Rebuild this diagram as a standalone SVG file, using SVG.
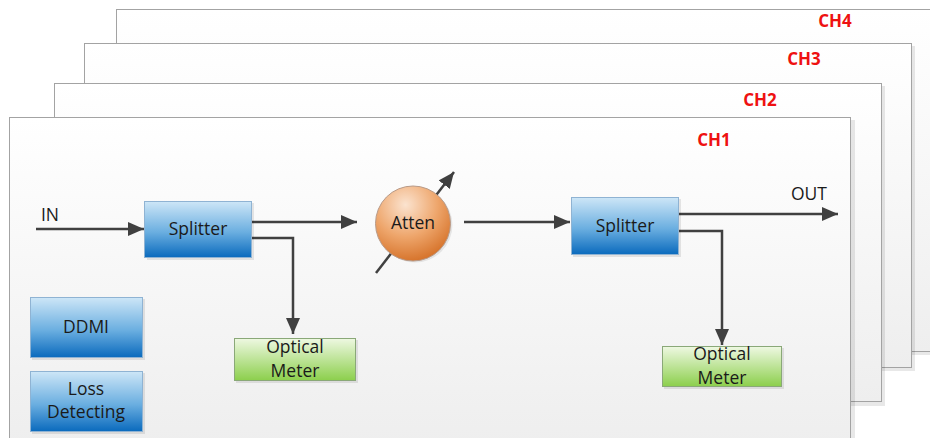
<svg xmlns="http://www.w3.org/2000/svg" width="930" height="438" viewBox="0 0 930 438">
<defs>
<linearGradient id="gPanel" x1="0" y1="0" x2="0" y2="1"><stop offset="0" stop-color="#ffffff"/><stop offset="1" stop-color="#eeeeee"/></linearGradient>
<linearGradient id="gBlue" x1="0" y1="0" x2="0" y2="1"><stop offset="0" stop-color="#cde6f7"/><stop offset="0.55" stop-color="#6aaee0"/><stop offset="1" stop-color="#0a6abd"/></linearGradient>
<linearGradient id="gGreen" x1="0" y1="0" x2="0" y2="1"><stop offset="0" stop-color="#eef8e2"/><stop offset="1" stop-color="#8ccf4c"/></linearGradient>
<radialGradient id="gOrange" cx="0.4" cy="0.25" r="0.85"><stop offset="0" stop-color="#fbe3cf"/><stop offset="0.5" stop-color="#eea66c"/><stop offset="1" stop-color="#d0661a"/></radialGradient>
<marker id="ah" markerUnits="userSpaceOnUse" markerWidth="18" markerHeight="14" refX="16" refY="7" orient="auto"><path d="M0,0 L16,7 L0,14 Z" fill="#404040"/></marker>
</defs>
<style>
.panel{fill:url(#gPanel);stroke:#a3a3a3;stroke-width:1}
.shadow{fill:#000;opacity:0.09}
.ch{font-family:"Open Sans","Liberation Sans",sans-serif;font-weight:bold;font-size:17px;fill:#ee1111;text-anchor:middle}
.lbl{font-family:"Open Sans","Liberation Sans",sans-serif;font-size:17.5px;fill:#1a1a1a;text-anchor:middle}
.blue{fill:url(#gBlue);stroke:#8fb3d3;stroke-width:1}
.green{fill:url(#gGreen);stroke:#8aa878;stroke-width:1}
.orange{fill:url(#gOrange);stroke:#b89a88;stroke-width:1}
.wire{fill:none;stroke:#404040;stroke-width:2.5}
</style>
<g id="panels">
<g id="ch4"><rect class="shadow" x="119" y="12" width="820" height="343"/><rect class="panel" x="116.5" y="9.5" width="820" height="342"/><text class="ch" x="835" y="27">CH4</text></g>
<g id="ch3"><rect class="shadow" x="87" y="46" width="828" height="325"/><rect class="panel" x="84.5" y="43.5" width="827" height="324"/><text class="ch" x="804" y="65">CH3</text></g>
<g id="ch2"><rect class="shadow" x="57" y="86" width="828" height="320"/><rect class="panel" x="54.5" y="83.5" width="827" height="318"/><text class="ch" x="760" y="106">CH2</text></g>
<g id="ch1"><rect class="shadow" x="12" y="120" width="843" height="330"/><rect class="panel" x="9.5" y="117.5" width="841" height="330"/><text class="ch" x="714" y="146">CH1</text></g>
</g>
<g id="connectors">
<path class="wire" d="M36,229 H144" marker-end="url(#ah)"/>
<path class="wire" d="M252,222 H357" marker-end="url(#ah)"/>
<path class="wire" d="M252,238 H293 V334" marker-end="url(#ah)"/>
<path class="wire" d="M376,273 L454,172" marker-end="url(#ah)"/>
<path class="wire" d="M464,222 H570" marker-end="url(#ah)"/>
<path class="wire" d="M679,214 H838" marker-end="url(#ah)"/>
<path class="wire" d="M679,231 H722 V345" marker-end="url(#ah)"/>
</g>
<g id="in"><text class="lbl" x="50" y="221">IN</text></g>
<g id="out"><text class="lbl" x="809" y="200">OUT</text></g>
<g id="splitter1"><rect class="shadow" x="147" y="203" width="107" height="57"/><rect class="blue" x="144.5" y="201.5" width="107" height="56"/><text class="lbl" x="198" y="235">Splitter</text></g>
<g id="atten"><circle cx="415" cy="225" r="37.5" fill="#000" opacity="0.08"/><circle class="orange" cx="413" cy="223.5" r="37.5"/><text class="lbl" x="413" y="229">Atten</text></g>
<g id="splitter2"><rect class="shadow" x="573" y="199" width="108" height="58"/><rect class="blue" x="571.5" y="197.5" width="107" height="57"/><text class="lbl" x="625" y="232">Splitter</text></g>
<g id="meter1"><rect class="shadow" x="236" y="340" width="122" height="43"/><rect class="green" x="234.5" y="338.5" width="121" height="42"/><text class="lbl" x="295" y="353">Optical</text><text class="lbl" x="295" y="377">Meter</text></g>
<g id="meter2"><rect class="shadow" x="664" y="348" width="120" height="41"/><rect class="green" x="662.5" y="346.5" width="119" height="40"/><text class="lbl" x="722" y="360">Optical</text><text class="lbl" x="722" y="384">Meter</text></g>
<g id="ddmi"><rect class="shadow" x="32" y="299" width="113" height="61"/><rect class="blue" x="30.5" y="297.5" width="112" height="60"/><text class="lbl" x="86" y="333">DDMI</text></g>
<g id="loss"><rect class="shadow" x="32" y="373" width="113" height="61"/><rect class="blue" x="30.5" y="371.5" width="112" height="60"/><text class="lbl" x="86" y="395">Loss</text><text class="lbl" x="86" y="418">Detecting</text></g>
</svg>
